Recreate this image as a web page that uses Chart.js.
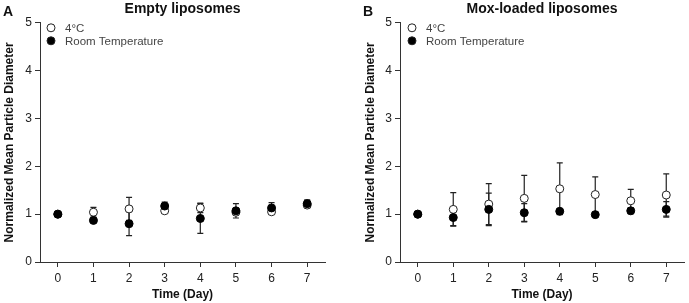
<!DOCTYPE html>
<html>
<head>
<meta charset="utf-8">
<script src="https://cdn.jsdelivr.net/npm/chart.js@4.4.1/dist/chart.umd.min.js"></script>
<style>
  html, body { margin: 0; padding: 0; background: #fff; }
  #wrap { display: flex; width: 689px; height: 303px; }
  canvas { display: block; }
</style>
</head>
<body>
<div id="wrap">
  <canvas id="chartA" width="345" height="303"></canvas>
  <canvas id="chartB" width="344" height="303"></canvas>
</div>
<script>
// days on the x axis
const days = [0, 1, 2, 3, 4, 5, 6, 7];
const yTicks = [0, 1, 2, 3, 4, 5];

// A - empty liposomes (mean, SD)
const emptyCold = [1.00, 1.04, 1.11, 1.07, 1.13, 1.04, 1.05, 1.19];
const emptyColdSd = [0, 0.10, 0.24, 0.05, 0.10, 0.05, 0.05, 0.06];
const emptyRoom = [1.00, 0.87, 0.80, 1.17, 0.91, 1.07, 1.13, 1.22];
const emptyRoomSd = [0, 0.04, 0.25, 0.08, 0.31, 0.15, 0.11, 0.08];

// B - mox-loaded liposomes (mean, SD)
const moxCold = [1.00, 1.10, 1.21, 1.33, 1.53, 1.41, 1.28, 1.40];
const moxColdSd = [0, 0.35, 0.43, 0.48, 0.54, 0.37, 0.24, 0.44];
const moxRoom = [1.00, 0.93, 1.10, 1.03, 1.06, 0.99, 1.07, 1.10];
const moxRoomSd = [0, 0.17, 0.34, 0.19, 0.03, 0.02, 0.06, 0.16];

const legendLabels = ["4°C", "Room Temperature"];
const FONT = "Arial, 'Liberation Sans', sans-serif";
const AXIS = "#333";

// error bars, drawn under the points
const errorBars = {
    id: "errorBars",
    beforeDatasetsDraw(chart) {
        const ctx = chart.ctx;
        const xs = chart.scales.x, ys = chart.scales.y;
        ctx.save();
        ctx.strokeStyle = "#222";
        ctx.lineWidth = 1.2;
        chart.data.datasets.forEach(function(ds) {
            ds.data.forEach(function(p, i) {
                const sd = ds.errors[i];
                if (!sd) return;
                const px = xs.getPixelForValue(p.x);
                const top = ys.getPixelForValue(p.y + sd);
                const bot = ys.getPixelForValue(p.y - sd);
                ctx.beginPath();
                ctx.moveTo(px, top); ctx.lineTo(px, bot);
                ctx.moveTo(px - 3, top); ctx.lineTo(px + 3, top);
                ctx.moveTo(px - 3, bot); ctx.lineTo(px + 3, bot);
                ctx.stroke();
            });
        });
        ctx.restore();
    }
};

// panel letter + legend inside the plot
const extras = {
    id: "extras",
    afterDraw(chart, args, opts) {
        const ctx = chart.ctx;
        const area = chart.chartArea;
        ctx.save();
        ctx.fillStyle = "#111";
        ctx.font = "bold 14px " + FONT;
        ctx.textBaseline = "alphabetic";
        ctx.fillText(opts.letter, opts.letterX, 16);

        const lx = area.left + opts.legendDx;
        const rows = [area.top + 5, area.top + 18];
        ctx.font = "11.5px " + FONT;
        ctx.textBaseline = "middle";
        legendLabels.forEach(function(lbl, i) {
            ctx.beginPath();
            ctx.arc(lx, rows[i], 4, 0, Math.PI * 2);
            ctx.fillStyle = i === 0 ? "#fff" : "#000";
            ctx.fill();
            ctx.lineWidth = 1;
            ctx.strokeStyle = "#222";
            ctx.stroke();
            ctx.fillStyle = "#444";
            ctx.fillText(lbl, lx + 14, rows[i] + 1);
        });
        ctx.restore();
    }
};

function toPoints(vals) {
    return vals.map(function(v, i) { return { x: days[i], y: v }; });
}

function makeChart(id, title, cold, coldSd, room, roomSd, cfg) {
    const ctx = document.getElementById(id).getContext("2d");
    const data = {
        datasets: [{
            label: legendLabels[0],
            data: toPoints(cold),
            errors: coldSd,
            order: 1,
            pointRadius: 4,
            pointBackgroundColor: "#fff",
            pointBorderColor: "#222",
            pointBorderWidth: 1
        }, {
            label: legendLabels[1],
            data: toPoints(room),
            errors: roomSd,
            order: 0,
            pointRadius: 4,
            pointBackgroundColor: "#000",
            pointBorderColor: "#000",
            pointBorderWidth: 1
        }]
    };
    const options = {
        responsive: false,
        animation: false,
        devicePixelRatio: 1,
        layout: { padding: { left: cfg.padLeft, right: cfg.padRight, top: 0, bottom: 0 } },
        plugins: {
            legend: { display: false },
            tooltip: { enabled: false },
            title: {
                display: true,
                text: title,
                fullSize: false,
                color: "#111",
                font: { family: FONT, size: 14, weight: "bold" },
                padding: { top: 1, bottom: 5 }
            },
            extras: cfg
        },
        scales: {
            x: {
                type: "linear",
                min: -0.5,
                max: 7.5,
                afterBuildTicks: function(s) { s.ticks = days.map(function(d) { return { value: d }; }); },
                afterFit: function(s) { s.height = 41; },
                grid: { drawOnChartArea: false, drawTicks: true, tickLength: 5, color: AXIS },
                border: { display: true, color: AXIS, width: 1 },
                ticks: { color: "#222", padding: 4, font: { family: FONT, size: 12 } },
                title: {
                    display: true,
                    text: "Time (Day)",
                    color: "#111",
                    font: { family: FONT, size: 12, weight: "bold" },
                    padding: { top: 0, bottom: 1 }
                }
            },
            y: {
                min: 0,
                max: 5,
                afterBuildTicks: function(s) { s.ticks = yTicks.map(function(v) { return { value: v }; }); },
                afterFit: function(s) { s.width = cfg.yWidth; },
                grid: { drawOnChartArea: false, drawTicks: true, tickLength: 5, color: AXIS },
                border: { display: true, color: AXIS, width: 1 },
                ticks: { color: "#222", padding: 3, font: { family: FONT, size: 12 } },
                title: {
                    display: true,
                    text: "Normalized Mean Particle Diameter",
                    color: "#111",
                    font: { family: FONT, size: 12, weight: "bold" },
                    padding: { top: 2, bottom: 0 }
                }
            }
        }
    };
    return new Chart(ctx, {
        type: "scatter",
        data: data,
        options: options,
        plugins: [errorBars, extras]
    });
}

window.addEventListener("load", () => {
    makeChart("chartA", "Empty liposomes", emptyCold, emptyColdSd, emptyRoom, emptyRoomSd,
        { padLeft: 0, padRight: 20, yWidth: 40, letter: "A", letterX: 3, legendDx: 11 });
    makeChart("chartB", "Mox-loaded liposomes", moxCold, moxColdSd, moxRoom, moxRoomSd,
        { padLeft: 16, padRight: 4, yWidth: 39, letter: "B", letterX: 18, legendDx: 12 });
});
</script>
</body>
</html>
